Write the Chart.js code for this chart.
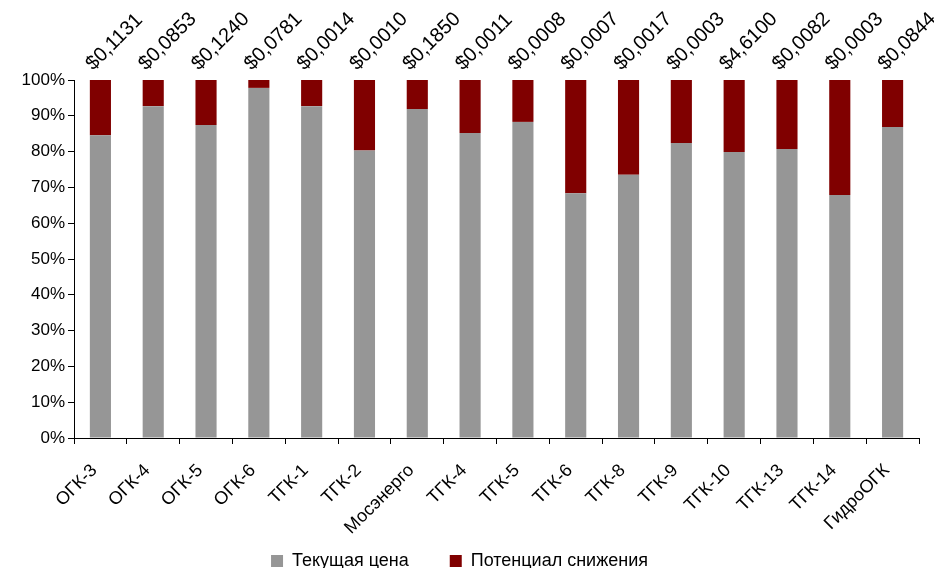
<!DOCTYPE html>
<html>
<head>
<meta charset="utf-8">
<script src="https://cdn.jsdelivr.net/npm/chart.js@4/dist/chart.umd.min.js"></script>
<style>
    body { margin: 0; overflow: hidden; background: #fff; }
    #wrap { width: 934px; height: 580px; }
</style>
</head>
<body>
<div id="wrap"><canvas id="grafica"></canvas></div>
<script>
const empresas = ["ОГК-3", "ОГК-4", "ОГК-5", "ОГК-6", "ТГК-1", "ТГК-2", "Мосэнерго", "ТГК-4",
    "ТГК-5", "ТГК-6", "ТГК-8", "ТГК-9", "ТГК-10", "ТГК-13", "ТГК-14", "ГидроОГК"];
const precioActual = [84.6, 92.7, 87.4, 97.8, 92.7, 80.3, 91.9, 85.2, 88.3, 68.4, 73.5, 82.4, 79.9, 80.7, 67.9, 86.9];
const potencial = precioActual.map((v) => 100 - v);
const etiquetasPrecio = ["$0,1131", "$0,0853", "$0,1240", "$0,0781", "$0,0014", "$0,0010", "$0,1850", "$0,0011",
    "$0,0008", "$0,0007", "$0,0017", "$0,0003", "$4,6100", "$0,0082", "$0,0003", "$0,0844"];

const fuente = "'Liberation Sans', Arial, sans-serif";
Chart.defaults.font.family = fuente;
Chart.defaults.color = "#000";

// precio encima de cada columna, girado 45 grados
const etiquetasArriba = {
    id: "etiquetasArriba",
    afterDatasetsDraw(chart) {
        const ctx = chart.ctx;
        const meta = chart.getDatasetMeta(1);
        ctx.save();
        ctx.font = "20px " + fuente;
        ctx.fillStyle = "#000";
        ctx.textAlign = "left";
        ctx.textBaseline = "middle";
        meta.data.forEach((barra, i) => {
            ctx.save();
            ctx.translate(barra.x - 11, barra.y - 13);
            ctx.rotate(-Math.PI / 4);
            ctx.fillText(etiquetasPrecio[i], 0, 0);
            ctx.restore();
        });
        ctx.restore();
    }
};

const ctx = document.getElementById("grafica").getContext("2d");
new Chart(ctx, {
    type: "bar",
    data: {
        labels: empresas,
        datasets: [
            // espacios duros para separar las dos entradas de la leyenda
            { label: "Текущая цена\u00a0\u00a0\u00a0\u00a0\u00a0", data: precioActual, backgroundColor: "#969696" },
            { label: "Потенциал снижения", data: potencial, backgroundColor: "#800000" }
        ]
    },
    options: {
        responsive: true,
        maintainAspectRatio: false,
        animation: false,
        layout: { padding: { top: 80, right: 15, left: 0, bottom: 0 } },
        datasets: { bar: { categoryPercentage: 1, barPercentage: 0.4 } },
        plugins: {
            legend: {
                position: "bottom",
                labels: { boxWidth: 12, boxHeight: 12, padding: 16, font: { size: 18 } }
            },
            tooltip: { enabled: false }
        },
        scales: {
            x: {
                stacked: true,
                grid: { drawOnChartArea: false, color: "#000", tickLength: 6 },
                border: { color: "#000" },
                ticks: { autoSkip: false, maxRotation: 45, minRotation: 45, font: { size: 18 }, padding: 16, labelOffset: -6 },
                afterFit: (escala) => { escala.height = 580 - 438 - escala.chart.legend.height; }
            },
            y: {
                stacked: true,
                min: 0,
                max: 100,
                grid: { drawOnChartArea: false, color: "#000", tickLength: 6 },
                border: { color: "#000" },
                ticks: { stepSize: 10, font: { size: 17 }, padding: 3, callback: (v) => v + "%" },
                afterFit: (escala) => { escala.width = 74; }
            }
        }
    },
    plugins: [etiquetasArriba]
});
</script>
</body>
</html>
